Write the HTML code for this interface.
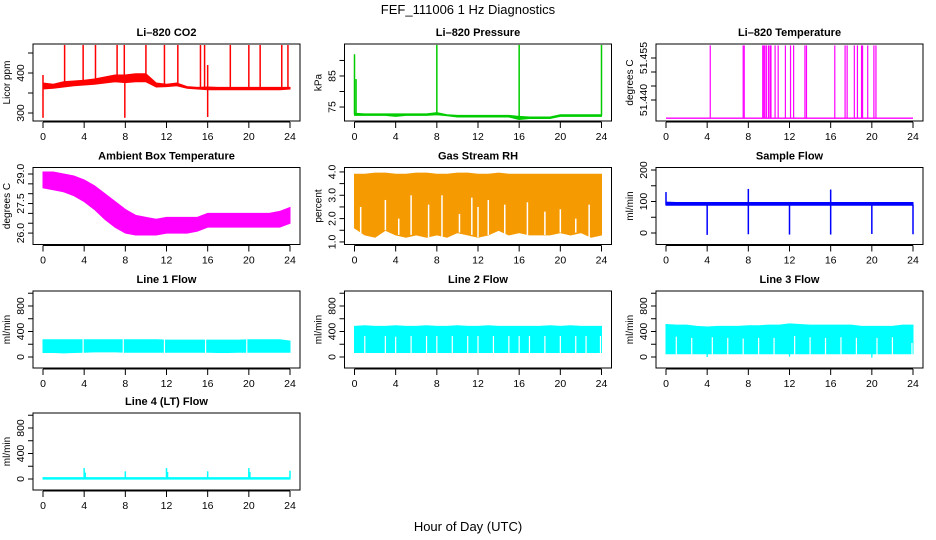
<!DOCTYPE html>
<html><head><meta charset="utf-8"><style>
html,body{margin:0;padding:0;background:#fff}
svg{display:block;font-family:"Liberation Sans",Arial,sans-serif}
</style></head><body>
<svg id="c" width="936" height="540" viewBox="0 0 936 540">
<text x="468" y="14" text-anchor="middle" font-size="13">FEF_111006  1 Hz Diagnostics</text>
<text x="468" y="531" text-anchor="middle" font-size="13">Hour of Day (UTC)</text>
</svg>
<script>
const hours=[0,1,2,3,4,5,6,7,8,9,10,11,12,13,14,15,16,17,18,19,20,21,22,23,24];
const xTicks=[0,4,8,12,16,20,24];
// CO2
const co2Lo=[360,362,365,368,370,372,375,378,376,378,378,365,366,368,362,360,358,358,358,358,358,358,358,358,360];
const co2Hi=[375,372,378,380,382,385,390,395,395,398,398,375,372,375,366,364,365,364,364,364,364,364,364,364,364];
const co2SpikeHours=[0.0,2.1,3.9,5.1,7.2,7.9,10.0,11.8,13.1,15.3,15.7,16.0,18.2,20.0,21.1,23.2,23.8];
const co2SpikeVals=[395,470,470,470,470,470,470,470,470,470,470,420,470,470,470,470,470];
const co2DipHours=[0.0,7.95,16.0];
const co2DipVals=[288,288,290];
// Pressure
const presLo=[72.3,72.3,72.3,72.3,72.0,72.3,72.3,72.3,72.5,72.2,71.8,71.8,71.8,71.8,71.8,71.8,71.0,71.3,71.3,71.3,72.0,72.0,72.0,72.0,72.0];
const presHi=[73.0,72.8,72.8,72.8,72.8,72.8,72.8,72.8,73.2,72.5,72.3,72.3,72.3,72.3,72.3,72.3,72.0,71.8,71.8,71.8,72.5,72.5,72.5,72.5,72.5];
const presSpikeHours=[0.0,0.15,8.0,16.0,24.0];
const presSpikeVals=[92,84,95,95,95];
// Li-820 temperature
const tempBase=51.4335;
const tempSpikeHours=[4.3,7.5,7.6,9.4,9.5,9.6,9.75,9.95,10.1,10.2,10.6,10.9,11.6,12.1,12.4,13.5,13.65,16.4,17.4,17.6,18.3,18.6,19.0,19.1,19.6,20.2,20.4];
const tempSpikeTop=51.4595;
// Ambient box temperature
const ambHi=[29.1,29.1,29.0,28.9,28.7,28.4,28.0,27.6,27.2,26.9,26.8,26.7,26.8,26.8,26.8,26.8,27.0,27.0,27.0,27.0,27.0,27.0,27.0,27.1,27.3];
const ambLo=[28.3,28.2,28.1,27.9,27.6,27.2,26.7,26.3,26.0,25.9,25.9,25.9,26.0,26.0,26.0,26.1,26.3,26.3,26.3,26.3,26.3,26.3,26.3,26.3,26.5];
// Gas stream RH
const rhHi=[3.9,3.9,3.95,3.95,3.9,3.9,3.95,3.95,3.9,3.9,3.95,3.95,3.9,3.9,3.95,3.9,3.9,3.9,3.9,3.9,3.9,3.9,3.9,3.9,3.9];
const rhLo=[1.6,1.3,1.2,1.5,1.3,1.2,1.3,1.2,1.3,1.2,1.4,1.3,1.2,1.3,1.5,1.3,1.4,1.3,1.3,1.3,1.4,1.3,1.4,1.2,1.3];
const rhGapHours=[0.6,3.0,4.3,5.5,7.2,8.5,10.2,11.4,12.0,13.0,14.6,16.8,18.5,20.0,21.5,22.8];
const rhGapVals=[2.5,2.8,2.0,3.0,2.6,3.0,2.2,2.9,2.5,2.8,2.6,2.7,2.3,2.4,2.0,2.6];
// Sample flow
const sfLo=[88,88,88,88,88,88,88,88,88,88,88,88,88,88,88,88,88,88,88,88,88,88,88,88,88];
const sfHi=[98,97,97,97,97,97,97,97,97,97,97,97,97,97,97,97,97,97,97,97,97,97,97,97,97];
const sfSpikeHours=[0.0,8.0,16.0];
const sfSpikeVals=[130,140,138];
const sfDipHours=[4.0,8.0,12.0,16.0,20.0,24.0];
const sfDipVals=[-6,-4,-5,-5,-3,-4];
// Line flows
const l1Lo=[70,70,65,70,75,80,80,80,75,75,75,75,75,75,75,75,75,70,70,75,75,75,75,75,75];
const l1Hi=[270,270,270,270,270,270,270,270,270,270,270,270,265,265,265,265,265,265,265,265,270,270,270,270,250];
const l1GapHours=[3.9,7.8,11.8,15.8,19.8];
const l2Lo=[70,70,70,70,70,70,70,70,70,70,70,70,70,70,70,70,70,70,70,70,70,70,70,70,70];
const l2Hi=[480,490,480,480,490,480,480,490,480,480,490,480,480,490,480,480,480,480,480,490,480,490,480,480,480];
const l2GapHours=[1.0,3.0,4.0,5.5,7.0,8.0,9.5,11.0,12.0,13.5,15.0,16.0,17.0,18.5,20.0,21.5,22.5,23.9];
const l2GapTop=[330,330,320,330,330,330,330,330,330,330,330,330,330,330,330,330,330,330];
const l3Lo=[50,50,50,50,50,50,50,50,50,50,50,50,50,50,50,50,50,50,50,50,50,50,50,50,50];
const l3Hi=[510,500,500,480,470,480,480,480,490,490,500,500,520,510,500,500,500,500,500,480,480,480,480,500,500];
const l3DipHours=[4.0,12.0,16.0,20.0];
const l3DipVals=[0,5,70,-10];
const l3GapHours=[1.0,2.5,4.5,6.0,7.5,9.0,10.5,12.5,14.0,15.5,17.0,18.5,20.5,22.0,23.9];
const l3GapTop=[320,300,310,300,290,300,300,330,310,300,310,300,300,310,220];
const l4Base=[10,10,10,10,10,10,10,10,10,10,10,10,10,10,10,10,10,10,10,10,10,10,10,10,10];
const l4SpikeHours=[4.0,4.1,8.0,12.0,12.1,16.0,20.0,20.1,24.0];
const l4SpikeVals=[170,100,120,170,110,120,170,110,130];

const NS='http://www.w3.org/2000/svg';
const svg=document.getElementById('c');
function mk(tag,attrs,parent){const e=document.createElementNS(NS,tag);for(const k in attrs)e.setAttribute(k,attrs[k]);(parent||svg).appendChild(e);return e;}
const colL=[33,344.5,656];const rowT=[44,167.5,291,413];
function panel(c,r,title,ylab,ymin,ymax,ticks,labels,name){
  const L=colL[c],T=rowT[r],W=267,H=77;
  const g=mk('g',{});
  
  
  const x0=L+10,x1=L+257;
  const sx=h=>x0+(h/24)*(x1-x0);
  const sy=v=>T+H-(v-ymin)/(ymax-ymin)*H;
  const t=mk('text',{x:L+W/2,y:T-8,'text-anchor':'middle','font-size':11,'font-weight':'bold'},g);t.textContent=title;
  
  
  const yl=mk('text',{transform:`translate(${L-23},${T+H/2}) rotate(-90)`,'text-anchor':'middle','font-size':10},g);yl.textContent=ylab;
  
  
  const plot=mk('g',{},g);
  
  
  const ya=mk('g',{stroke:'#000','stroke-width':1,fill:'none'},g);
  
  
  mk('line',{x1:L,y1:sy(ticks[0]),x2:L,y2:sy(ticks[ticks.length-1])},ya);
  ticks.forEach((v,i)=>{mk('line',{x1:L-5,y1:sy(v),x2:L,y2:sy(v)},ya);
    if(labels[i]){const tl=mk('text',{transform:`translate(${L-9},${sy(v)}) rotate(-90)`,'text-anchor':'middle','font-size':10.5,fill:'#000',stroke:'none'},ya);tl.textContent=labels[i];}});
  const xa=mk('g',{stroke:'#000','stroke-width':1,fill:'none'},g);
  
  
  mk('line',{x1:sx(0),y1:T+H+1,x2:sx(24),y2:T+H+1},xa);
  xTicks.forEach(h=>{mk('line',{x1:sx(h),y1:T+H+1,x2:sx(h),y2:T+H+7},xa);
    const tl=mk('text',{x:sx(h),y:T+H+19,'text-anchor':'middle','font-size':10.5,fill:'#000',stroke:'none'},xa);tl.textContent=h;});
  const box=mk('rect',{x:L,y:T,width:W,height:H,fill:'none',stroke:'#000','stroke-width':1},g);
  
  
  return {sx,sy,plot};
}
function band(p,lo,hi,fill){
  let d='M'+hours.map((h,i)=>p.sx(h)+','+p.sy(hi[i])).join('L');
  d+='L'+hours.slice().reverse().map((h,j)=>{const i=hours.length-1-j;return p.sx(h)+','+p.sy(lo[i]);}).join('L')+'Z';
  const e=mk('path',{d:d,fill:fill,stroke:fill,'stroke-width':1},p.plot);
  
  
}
function vlines(p,hs,from,to,color,w){
  hs.forEach((h,i)=>{const a=Array.isArray(from)?from[i]:from,b=Array.isArray(to)?to[i]:to;
    const e=mk('line',{x1:p.sx(h),x2:p.sx(h),y1:p.sy(a),y2:p.sy(b),stroke:color,'stroke-width':w||1.3},p.plot);
    
    });
}
function midOf(lo,hi,hs){return hs.map(h=>{const i=Math.min(24,Math.round(h));return (lo[i]+hi[i])/2;});}

let p;
p=panel(0,0,'Li\u2013820 CO2','Licor ppm',280,472.5,[300,350,400,450],['300','','400',''],'co2');
band(p,co2Lo,co2Hi,'#ff0000');
vlines(p,co2SpikeHours,midOf(co2Lo,co2Hi,co2SpikeHours),co2SpikeVals,'#ff0000',1.5);
vlines(p,co2DipHours,midOf(co2Lo,co2Hi,co2DipHours),co2DipVals,'#ff0000',1.5);

p=panel(1,0,'Li\u2013820 Pressure','kPa',70.5,95.3,[75,80,85,90],['75','','85',''],'pressure');
band(p,presLo,presHi,'#00cc00');
vlines(p,presSpikeHours,midOf(presLo,presHi,presSpikeHours),presSpikeVals,'#00cc00',1.5);

p=panel(2,0,'Li\u2013820 Temperature','degrees C',51.4325,51.46,[51.44,51.445,51.45,51.455],['51.440','','','51.455'],'li820-temperature');
(function(){const e=mk('line',{x1:p.sx(0),x2:p.sx(24),y1:p.sy(tempBase),y2:p.sy(tempBase),stroke:'#ff00ff','stroke-width':1.3},p.plot);

})();
vlines(p,tempSpikeHours,tempBase,tempSpikeTop,'#ff00ff',1.2);

p=panel(0,1,'Ambient Box Temperature','degrees C',25.42,29.33,[26,26.5,27,27.5,28,28.5,29],['26.0','','','27.5','','','29.0'],'ambient-temperature');
band(p,ambLo,ambHi,'#ff00ff');

p=panel(1,1,'Gas Stream RH','percent',0.89,4.19,[1,1.5,2,2.5,3,3.5,4],['1.0','','2.0','','3.0','','4.0'],'gas-stream-rh');
band(p,rhLo,rhHi,'#f59a00');
vlines(p,rhGapHours,midOf(rhLo,rhLo,rhGapHours),rhGapVals,'#ffffff',1.5);

p=panel(2,1,'Sample Flow','ml/min',-36.5,208,[0,50,100,150,200],['0','','100','','200'],'sample-flow');
band(p,sfLo,sfHi,'#0000ff');
vlines(p,sfSpikeHours,90,sfSpikeVals,'#0000ff',1.5);
vlines(p,sfDipHours,90,sfDipVals,'#0000ff',1.5);

const flowTicks=[0,200,400,600,800,1000],flowLabels=['0','','400','','800',''];
p=panel(0,2,'Line 1 Flow','ml/min',-172.5,1035,flowTicks,flowLabels,'line1-flow');
band(p,l1Lo,l1Hi,'#00ffff');
vlines(p,l1GapHours,60,280,'#ffffff',1.2);

p=panel(1,2,'Line 2 Flow','ml/min',-172.5,1035,flowTicks,flowLabels,'line2-flow');
band(p,l2Lo,l2Hi,'#00ffff');
vlines(p,l2GapHours,60,l2GapTop,'#ffffff',1.2);

p=panel(2,2,'Line 3 Flow','ml/min',-172.5,1035,flowTicks,flowLabels,'line3-flow');
band(p,l3Lo,l3Hi,'#00ffff');
vlines(p,l3GapHours,40,l3GapTop,'#ffffff',1.2);
vlines(p,l3DipHours,100,l3DipVals,'#00ffff',1.3);

p=panel(0,3,'Line 4 (LT) Flow','ml/min',-172.5,1035,flowTicks,flowLabels,'line4-flow');
band(p,l4Base.map(v=>v-12),l4Base.map(v=>v+12),'#00ffff');
vlines(p,l4SpikeHours,10,l4SpikeVals,'#00ffff',1.5);
</script>
</body></html>
